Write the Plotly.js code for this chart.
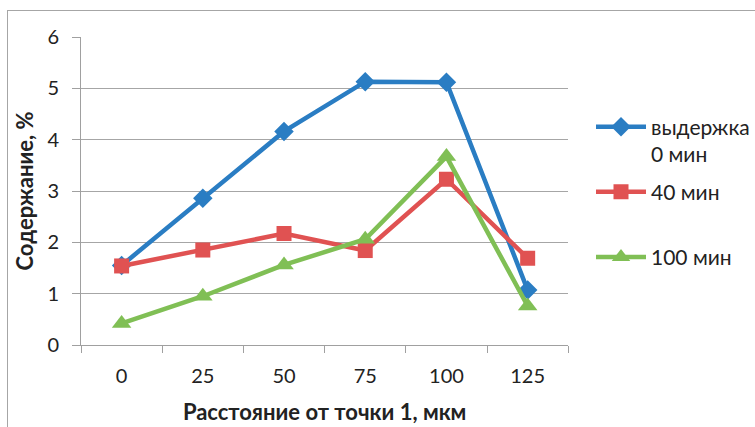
<!DOCTYPE html>
<html>
<head>
<meta charset="utf-8">
<script src="https://cdn.plot.ly/plotly-3.0.1.min.js"></script>
<style>
html,body{margin:0;padding:0;background:#fff;overflow:hidden;}
#wrap{position:relative;width:755px;height:427px;}
#frame{position:absolute;left:7px;top:10px;width:800px;height:500px;border:1px solid #a6a6a6;box-sizing:border-box;pointer-events:none;}
#chart{position:absolute;left:0;top:0;width:755px;height:427px;}
</style>
</head>
<body>
<div id="wrap"><div id="frame"></div><div id="chart"></div></div>
<script>
const categories = ["0", "25", "50", "75", "100", "125"];
const hold0 = [1.55, 2.86, 4.16, 5.13, 5.12, 1.07];
const hold40 = [1.54, 1.85, 2.17, 1.84, 3.23, 1.69];
const hold100 = [0.42, 0.95, 1.56, 2.06, 3.67, 0.76];
const seriesNames = ["выдержка<br>0 мин", "40 мин<br>&nbsp;", "100 мин"];
const xTitle = "Расстояние от точки 1, мкм";
const yTitle = "Содержание, %";

const font = "Lato, 'Open Sans', sans-serif";
const traces = [
  {x: categories, y: hold0, name: seriesNames[0], legendgroup: "a", mode: "lines+markers",
   line: {color: "#2a7dc3", width: 4.5}, marker: {symbol: "diamond", size: 15, color: "#2a7dc3"}},
  {x: categories, y: hold40, name: seriesNames[1], legendgroup: "b", mode: "lines+markers",
   line: {color: "#e05252", width: 4.5}, marker: {symbol: "square", size: 15, color: "#e05252"}},
  {x: categories, y: hold100, name: seriesNames[2], legendgroup: "c", mode: "lines+markers",
   line: {color: "#80bf55", width: 4.5}, marker: {symbol: "triangle-up", size: 17, color: "#80bf55"}}
];

const layout = {
  width: 755, height: 427,
  margin: {l: 81, r: 1, t: 37, b: 82},
  paper_bgcolor: "rgba(0,0,0,0)", plot_bgcolor: "rgba(0,0,0,0)",
  font: {family: font, size: 20, color: "#222"},
  showlegend: true,
  legend: {x: 510 / 673, y: 0.774, xanchor: "left", yanchor: "top", valign: "top",
    traceorder: "grouped", tracegroupgap: 7.5, font: {size: 21, color: "#222"},
    itemwidth: 50, bgcolor: "rgba(0,0,0,0)"},
  xaxis: {
    domain: [0, 488 / 673],
    type: "category", range: [-0.5, 5.5], tickson: "boundaries", ticks: "outside", ticklen: 7,
    tickcolor: "#a0a0a0", showline: true, linecolor: "#a0a0a0", linewidth: 1,
    showgrid: false, zeroline: false, ticklabelstandoff: 13,
    title: {text: xTitle, font: {size: 22, family: font, color: "#222", weight: "bold"}, standoff: 18}
  },
  yaxis: {
    range: [0, 6], dtick: 1, ticks: "outside", ticklen: 8, tickcolor: "#a0a0a0",
    showline: true, linecolor: "#a0a0a0", linewidth: 1,
    showgrid: true, gridcolor: "#a6a6a6", gridwidth: 1, zeroline: false,
    ticklabelstandoff: 9,
    title: {text: yTitle, font: {size: 22, family: font, color: "#222", weight: "bold"}, standoff: 7}
  }
};

Plotly.newPlot("chart", traces, layout, {displayModeBar: false, staticPlot: true});
</script>
</body>
</html>
